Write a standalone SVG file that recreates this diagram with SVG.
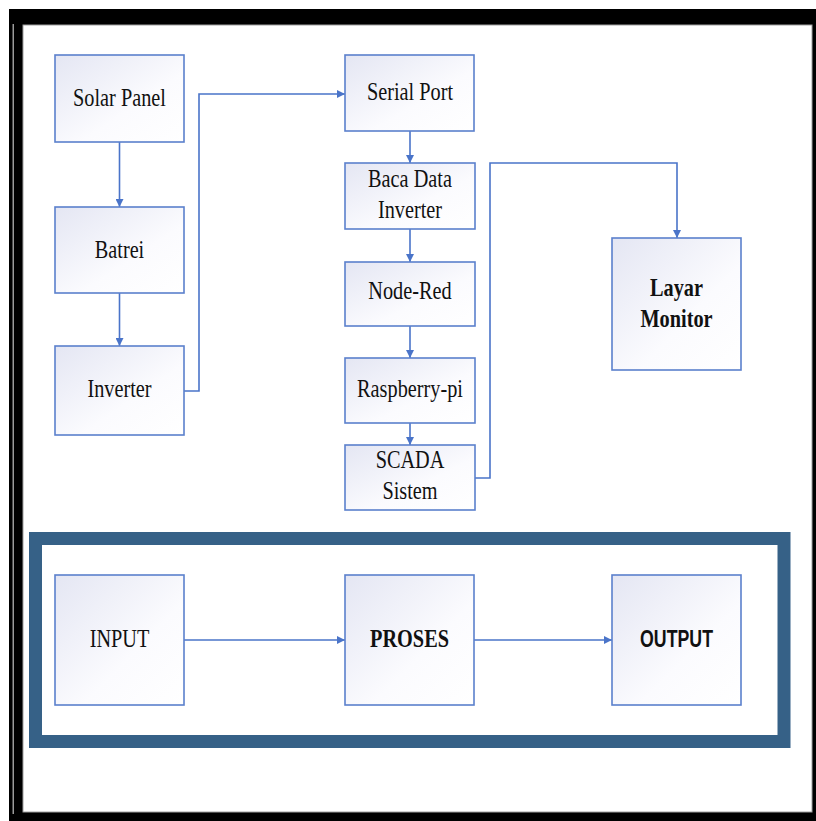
<svg xmlns="http://www.w3.org/2000/svg" width="816" height="821" viewBox="0 0 816 821">
  <defs>
    <linearGradient id="boxFill" x1="0" y1="0" x2="1" y2="1">
      <stop offset="0" stop-color="#e4e6f3"/>
      <stop offset="0.6" stop-color="#fbfbfe"/>
      <stop offset="1" stop-color="#ffffff"/>
    </linearGradient>
    <marker id="arrow" viewBox="0 0 8 8" refX="8" refY="4" markerWidth="8" markerHeight="8" markerUnits="userSpaceOnUse" orient="auto">
      <path d="M0,0 L8,4 L0,8 z" fill="#4a74c9"/>
    </marker>
  </defs>
  <style>
    .box { fill: url(#boxFill); stroke: #5b80cc; stroke-width: 1.6; }
    .link { fill: none; stroke: #4a74c9; stroke-width: 1.6; marker-end: url(#arrow); }
    .plain { fill: none; stroke: #4a74c9; stroke-width: 1.6; }
    .lbl { font-family: "Liberation Serif", "Times New Roman", serif; font-size: 26px; fill: #111; text-anchor: middle; }
    .bold { font-weight: bold; }
    .sans { font-family: "Liberation Sans", Arial, sans-serif; font-size: 24px; font-weight: bold; }
  </style>

  <!-- page frame -->
  <rect x="9" y="9" width="807" height="812" fill="#000"/>
  <rect x="12.5" y="24" width="1.5" height="790" fill="#9a9a9a"/>
  <rect x="23" y="25" width="789" height="787" fill="#fff" stroke="#a0a0a0" stroke-width="1"/>

  <!-- legend frame -->
  <rect x="35.5" y="538.5" width="748.5" height="203" fill="none" stroke="#366187" stroke-width="13"/>

  <!-- connectors -->
  <g id="connectors">
    <line class="link" x1="119.5" y1="142" x2="119.5" y2="207"/>
    <line class="link" x1="119.5" y1="293" x2="119.5" y2="346"/>
    <polyline class="link" points="184,391 199,391 199,94 345,94"/>
    <line class="link" x1="410" y1="131" x2="410" y2="163"/>
    <line class="link" x1="410" y1="229" x2="410" y2="262"/>
    <line class="link" x1="410" y1="326" x2="410" y2="358"/>
    <line class="link" x1="410" y1="423" x2="410" y2="445"/>
    <polyline class="link" points="475,478 490,478 490,163 677,163 677,238"/>
    <line class="link" x1="184" y1="640" x2="345" y2="640"/>
    <line class="link" x1="474" y1="640" x2="612" y2="640"/>
  </g>

  <g id="solar-panel">
    <rect class="box" x="55" y="55" width="129" height="87"/>
    <text class="lbl" transform="translate(119.5,106) scale(0.78,1)">Solar Panel</text>
  </g>
  <g id="batrei">
    <rect class="box" x="55" y="207" width="129" height="86"/>
    <text class="lbl" transform="translate(119.5,257.5) scale(0.78,1)">Batrei</text>
  </g>
  <g id="inverter">
    <rect class="box" x="55" y="346" width="129" height="89"/>
    <text class="lbl" transform="translate(119.5,397) scale(0.78,1)">Inverter</text>
  </g>
  <g id="serial-port">
    <rect class="box" x="345" y="55" width="129" height="76"/>
    <text class="lbl" transform="translate(410,100) scale(0.78,1)">Serial Port</text>
  </g>
  <g id="baca-data-inverter">
    <rect class="box" x="345" y="163" width="130" height="66"/>
    <text class="lbl" transform="translate(410,187) scale(0.78,1)">Baca Data</text>
    <text class="lbl" transform="translate(410,218) scale(0.78,1)">Inverter</text>
  </g>
  <g id="node-red">
    <rect class="box" x="345" y="262" width="130" height="64"/>
    <text class="lbl" transform="translate(410,299) scale(0.78,1)">Node-Red</text>
  </g>
  <g id="raspberry-pi">
    <rect class="box" x="345" y="358" width="130" height="65"/>
    <text class="lbl" transform="translate(410,397) scale(0.78,1)">Raspberry-pi</text>
  </g>
  <g id="scada-sistem">
    <rect class="box" x="345" y="445" width="130" height="65"/>
    <text class="lbl" transform="translate(410,468) scale(0.78,1)">SCADA</text>
    <text class="lbl" transform="translate(410,499) scale(0.78,1)">Sistem</text>
  </g>
  <g id="layar-monitor">
    <rect class="box" x="612" y="238" width="129" height="132"/>
    <text class="lbl bold" transform="translate(676.5,296) scale(0.78,1)">Layar</text>
    <text class="lbl bold" transform="translate(676.5,327) scale(0.78,1)">Monitor</text>
  </g>

  <g id="input">
    <rect class="box" x="55" y="575" width="129" height="130"/>
    <text class="lbl" transform="translate(119.5,647) scale(0.78,1)">INPUT</text>
  </g>
  <g id="proses">
    <rect class="box" x="345" y="575" width="129" height="130"/>
    <text class="lbl bold" transform="translate(409.5,647) scale(0.78,1)">PROSES</text>
  </g>
  <g id="output">
    <rect class="box" x="612" y="575" width="129" height="130"/>
    <text class="lbl sans" transform="translate(676.5,647) scale(0.74,1)">OUTPUT</text>
  </g>
</svg>
